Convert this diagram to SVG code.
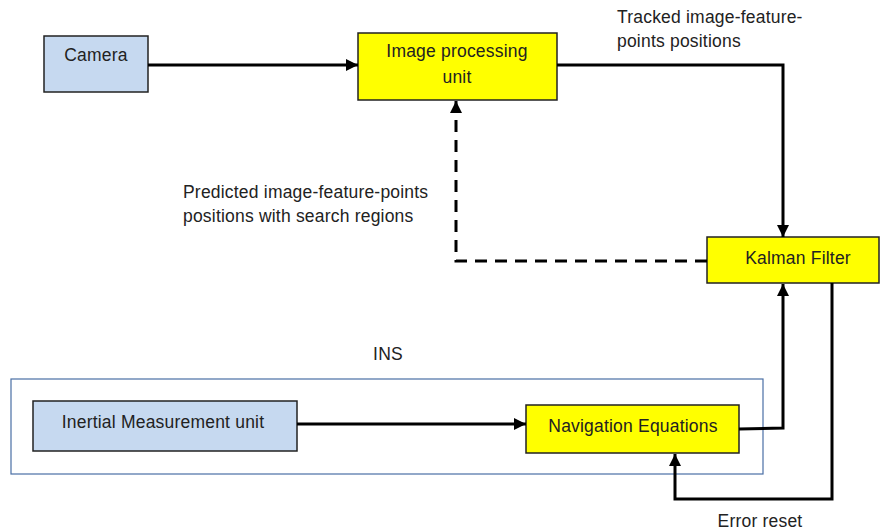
<svg xmlns="http://www.w3.org/2000/svg" width="884" height="531" viewBox="0 0 884 531">
<style>
  text { font-family: "Liberation Sans", "Open Sans", sans-serif; font-size: 17.5px; fill: #222; letter-spacing: 0.2px; }
  .c { text-anchor: middle; }
  .blue { fill: #c6d9f0; stroke: #222; stroke-width: 1.5; }
  .yel { fill: #ffff00; stroke: #222; stroke-width: 1.5; }
  .ln { fill: none; stroke: #000; stroke-width: 3; }
  .dash { fill: none; stroke: #000; stroke-width: 3; stroke-dasharray: 12 8; }
</style>
<defs>
  <marker id="ah" viewBox="0 0 10 10" refX="10" refY="5" markerWidth="4" markerHeight="4" orient="auto" markerUnits="strokeWidth">
    <path d="M0,0 L10,5 L0,10 z" fill="#000"/>
  </marker>
</defs>
<g id="ins-container">
  <rect x="11" y="379" width="752" height="95" fill="none" stroke="#4a6fa5" stroke-width="1.2"/>
  <text class="c" x="388" y="360">INS</text>
</g>
<g id="camera">
  <rect class="blue" x="44" y="36" width="104" height="56"/>
  <text class="c" x="96" y="61">Camera</text>
</g>
<g id="image-processing">
  <rect class="yel" x="358" y="33" width="199" height="67"/>
  <text class="c" x="457" y="57">Image processing</text>
  <text class="c" x="457" y="83">unit</text>
</g>
<g id="kalman">
  <rect class="yel" x="707" y="237" width="172" height="46"/>
  <text class="c" x="798" y="264">Kalman Filter</text>
</g>
<g id="imu">
  <rect class="blue" x="33" y="401" width="264" height="50"/>
  <text class="c" x="163" y="428">Inertial Measurement unit</text>
</g>
<g id="nav">
  <rect class="yel" x="526" y="405" width="213" height="48"/>
  <text class="c" x="633" y="432">Navigation Equations</text>
</g>
<g id="connectors">
  <path class="ln" d="M148,65 L358,65" marker-end="url(#ah)"/>
  <path class="ln" d="M557,65 L783,65 L783,237" marker-end="url(#ah)"/>
  <path class="dash" d="M707,261 L456,261 L456,101" marker-end="url(#ah)"/>
  <path class="ln" d="M297,424 L526,424" marker-end="url(#ah)"/>
  <path class="ln" d="M739,429 L783,428 L783,284" marker-end="url(#ah)"/>
  <path class="ln" d="M832,283 L832,499 L675,499 L675,454" marker-end="url(#ah)"/>
  <text x="617" y="23">Tracked image-feature-</text>
  <text x="617" y="47">points positions</text>
  <text x="183" y="198">Predicted image-feature-points</text>
  <text x="183" y="222">positions with search regions</text>
  <text class="c" x="760" y="527">Error reset</text>
</g>
</svg>
